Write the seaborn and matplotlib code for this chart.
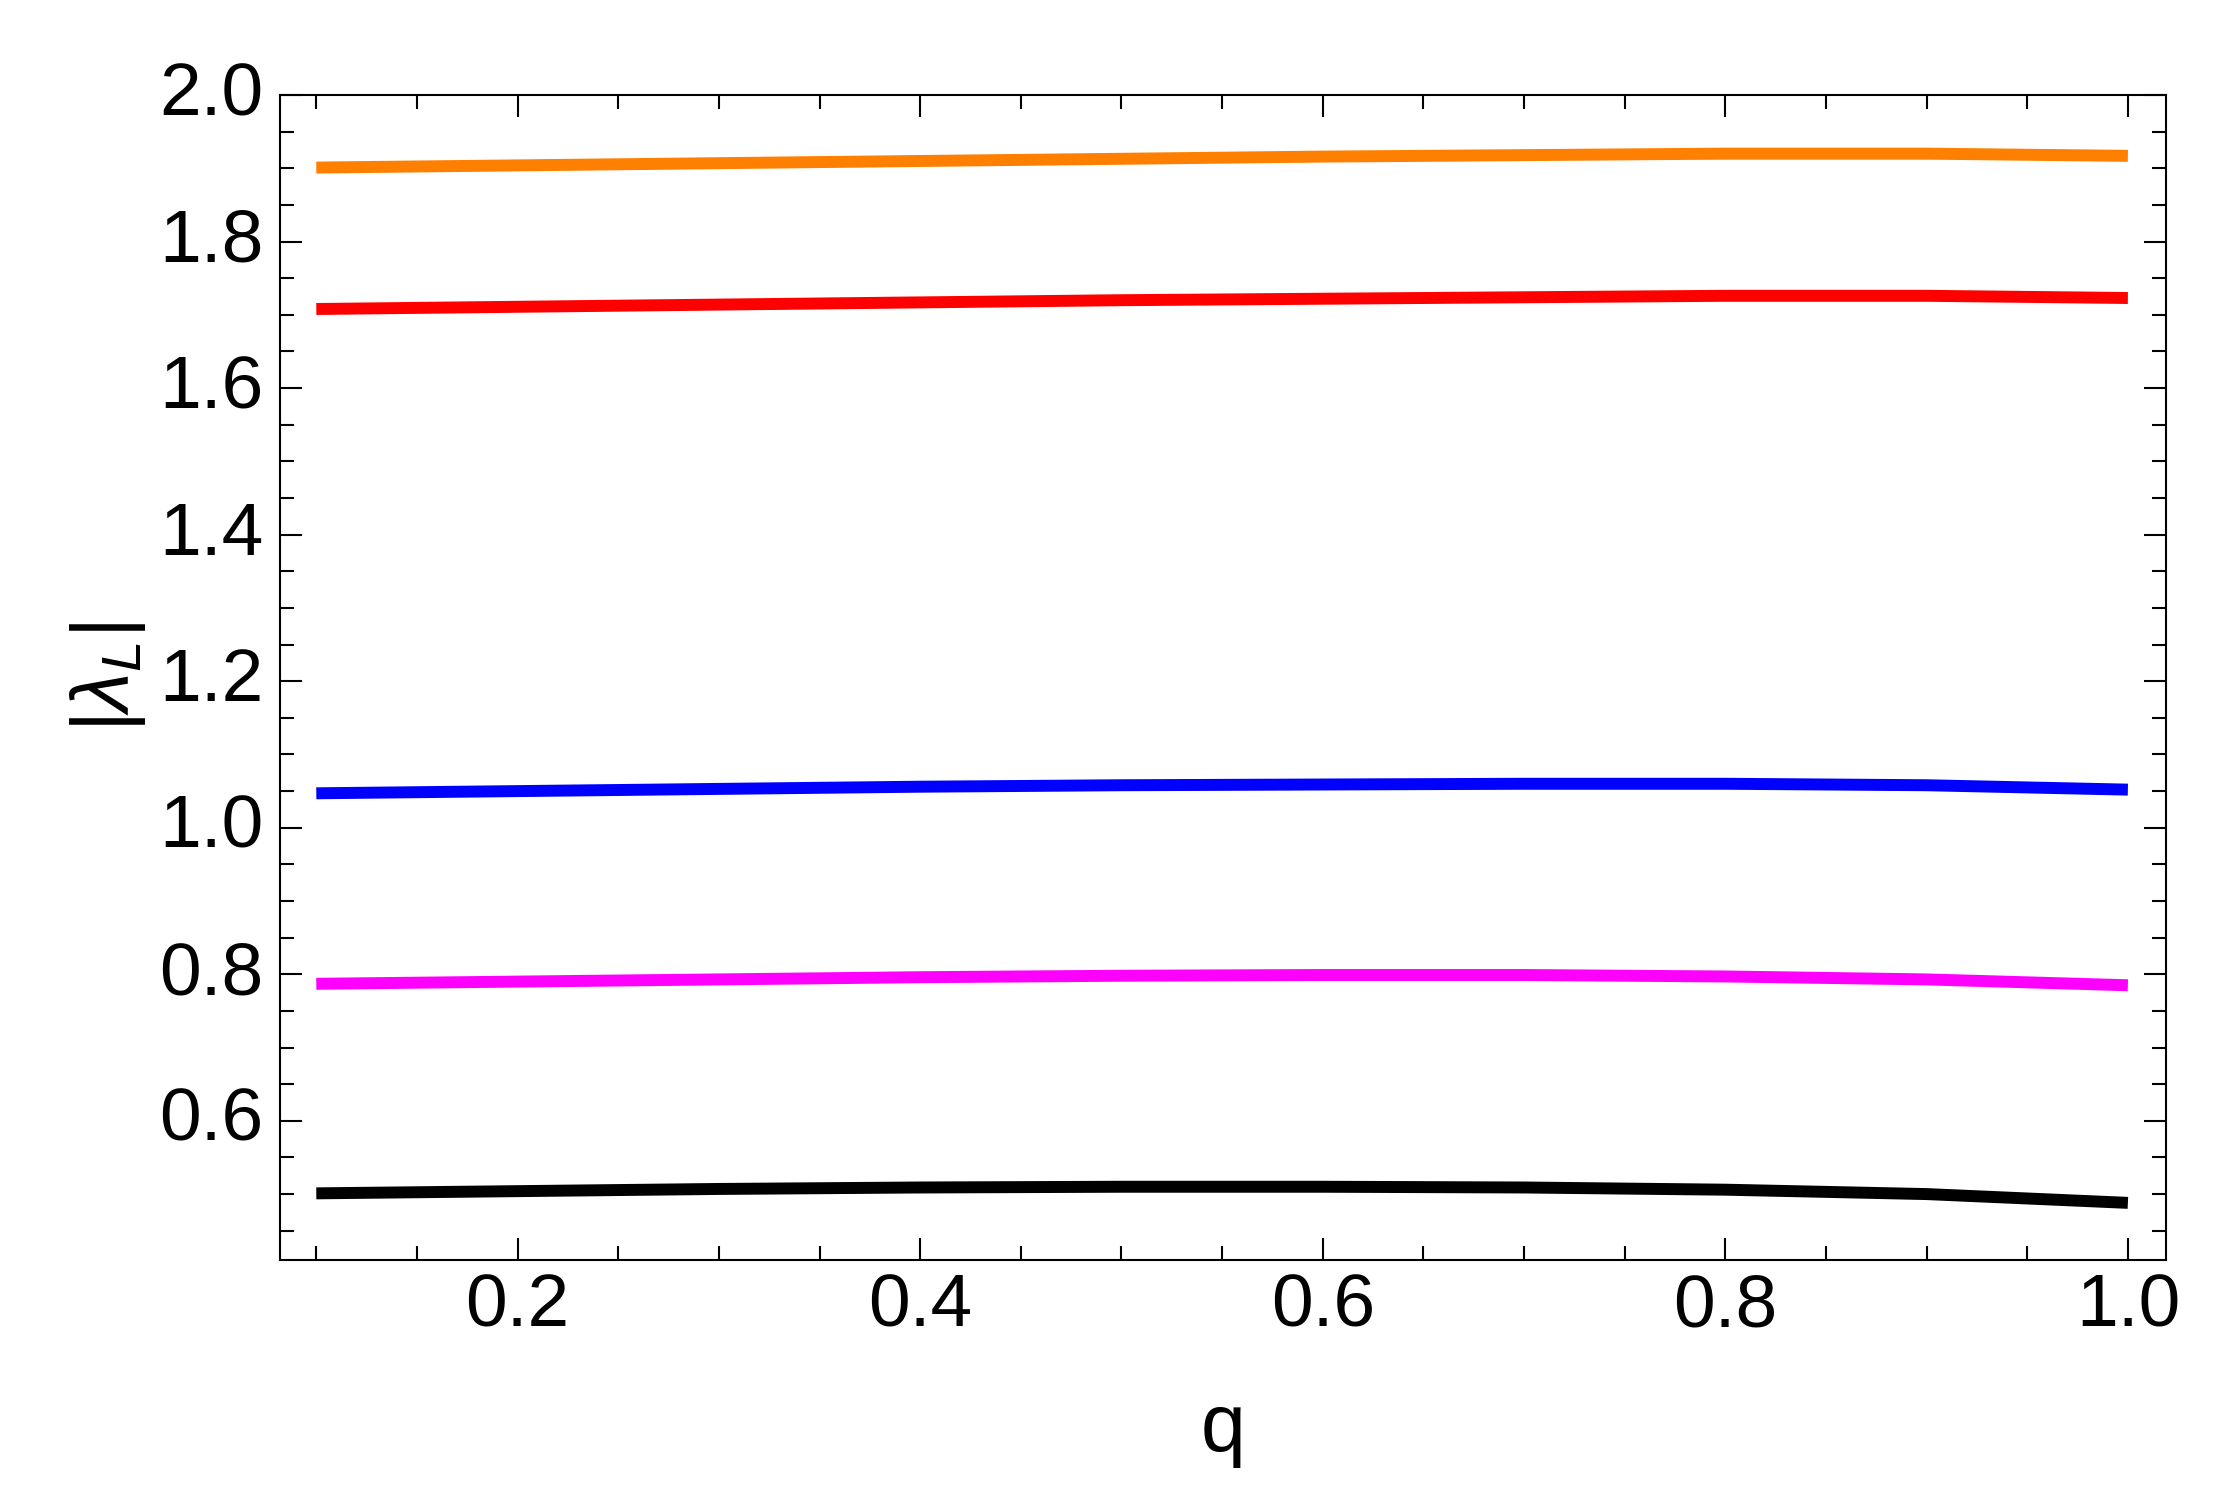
import numpy as np
import pandas as pd
import matplotlib
matplotlib.use("Agg")
import matplotlib.pyplot as plt
import matplotlib.transforms as mtransforms
from matplotlib.ticker import MultipleLocator
import seaborn as sns

# ── data ────────────────────────────────────────────────────
q = [0.1, 0.2, 0.3, 0.4, 0.5, 0.6, 0.7, 0.8, 0.9, 1.0]
lam_orange  = [1.901, 1.904, 1.907, 1.910, 1.913, 1.916, 1.918, 1.920, 1.920, 1.917]
lam_red     = [1.708, 1.711, 1.714, 1.717, 1.720, 1.722, 1.724, 1.726, 1.726, 1.723]
lam_blue    = [1.047, 1.050, 1.053, 1.056, 1.058, 1.059, 1.060, 1.060, 1.058, 1.052]
lam_magenta = [0.787, 0.790, 0.793, 0.796, 0.798, 0.799, 0.799, 0.797, 0.793, 0.785]
lam_black   = [0.501, 0.504, 0.507, 0.509, 0.510, 0.510, 0.509, 0.506, 0.500, 0.488]

series = {
    "orange": lam_orange,
    "red": lam_red,
    "blue": lam_blue,
    "magenta": lam_magenta,
    "black": lam_black,
}
colors = {
    "orange": "#FF7F00",
    "red": "#FF0000",
    "blue": "#0000FF",
    "magenta": "#FF00FF",
    "black": "#000000",
}

df = pd.concat(
    [pd.DataFrame({"q": q, "lam": v, "curve": k}) for k, v in series.items()],
    ignore_index=True,
)

# ── style ───────────────────────────────────────────────────
sns.set_style("ticks")
plt.rcParams["font.family"] = ["Liberation Sans", "DejaVu Sans"]
plt.rcParams["mathtext.fontset"] = "custom"
plt.rcParams["mathtext.rm"] = "Liberation Sans"
plt.rcParams["mathtext.it"] = "Liberation Sans:italic"
plt.rcParams["text.color"] = "black"
plt.rcParams["axes.labelcolor"] = "black"
plt.rcParams["xtick.color"] = "black"
plt.rcParams["ytick.color"] = "black"

fig = plt.figure(figsize=(22.21, 15.11), dpi=100)
ax = fig.add_axes([0.1261, 0.1661, 0.9752 - 0.1261, 0.9371 - 0.1661])

sns.lineplot(data=df, x="q", y="lam", hue="curve", palette=colors,
             linewidth=8.6, legend=False, ax=ax, solid_capstyle="butt")

ax.set_xlim(0.082, 1.0189)
ax.set_ylim(0.41, 2.0)

ax.xaxis.set_minor_locator(MultipleLocator(0.05))
ax.yaxis.set_minor_locator(MultipleLocator(0.05))
ax.set_xticks([0.2, 0.4, 0.6, 0.8, 1.0])
ax.set_xticklabels(["0.2", "0.4", "0.6", "0.8", "1.0"])
ax.set_yticks([0.6, 0.8, 1.0, 1.2, 1.4, 1.6, 1.8, 2.0])
ax.set_yticklabels(["0.6", "0.8", "1.0", "1.2", "1.4", "1.6", "1.8", "2.0"])

ax.tick_params(which="both", direction="in", top=True, right=True,
               width=1.5, color="black", labelcolor="black")
ax.tick_params(which="major", length=15.8)
ax.tick_params(which="minor", length=10)
ax.tick_params(axis="x", which="major", labelsize=54, pad=9)
ax.tick_params(axis="y", which="major", labelsize=54, pad=12)

# y tick labels sit a little above their ticks in the reference
shift = mtransforms.ScaledTranslation(0, 5 / 72, fig.dpi_scale_trans)
for lab in ax.get_yticklabels():
    lab.set_transform(lab.get_transform() + shift)

for s in ax.spines.values():
    s.set_linewidth(1.5)
    s.set_color("black")

ax.set_xlabel("q", fontsize=58, labelpad=36)
ax.set_ylabel(r"$|\lambda_L|$", fontsize=58, labelpad=8)

plt.savefig("out.png", dpi=100)
plt.close()
